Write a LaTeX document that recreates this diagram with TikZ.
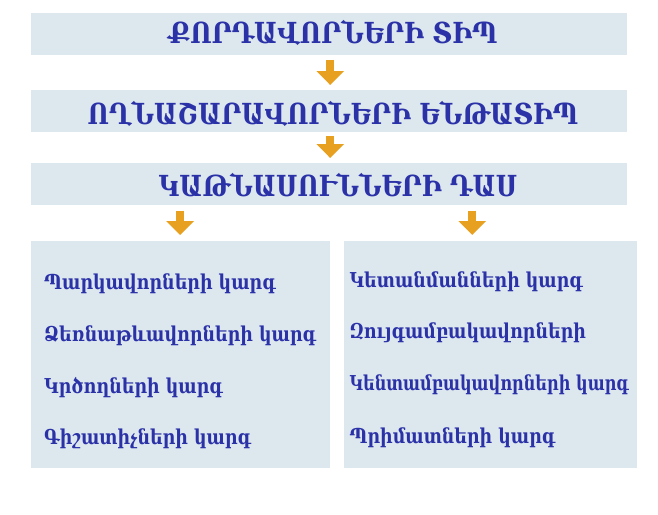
\documentclass[tikz,border=0pt]{standalone}
\usepackage{fontspec}
\setmainfont[FakeStretch=0.85]{DejaVu Serif}
\usetikzlibrary{arrows.meta}
\definecolor{boxfill}{RGB}{220,231,238}
\definecolor{arrowc}{RGB}{232,160,32}
\definecolor{txtc}{RGB}{43,50,168}
\tikzset{
  panel/.style={fill=boxfill, draw=none, inner sep=0pt, anchor=north west},
  wide/.style={panel, minimum width=596.2pt, minimum height=42.3pt},
  heading/.style={text=txtc, font=\fontsize{29}{31}\selectfont\bfseries, inner sep=0pt, anchor=base},
  item/.style={text=txtc, font=\fontsize{20.5}{23}\selectfont\bfseries, inner sep=0pt, anchor=base west},
  blockarrow/.style={draw=arrowc, line width=8pt, -{Triangle[width=27pt,length=14pt,fill=arrowc]}}
}
\begin{document}
\begin{tikzpicture}[x=1pt,y=-1pt]
\useasboundingbox (0,0) rectangle (658,514);
\node[wide] (b1) at (30.5,12.7) {};
\node[wide] (b2) at (30.5,89.3) {};
\node[wide] (b3) at (30.5,162.3) {};
\node[panel, minimum width=299.5pt, minimum height=226.8pt] (L) at (30.5,240.5) {};
\node[panel, minimum width=292.7pt, minimum height=226.8pt] (R) at (344,240.5) {};

\node[heading] (t1) at (333,43.3) {ՔՈՐԴԱՎՈՐՆԵՐԻ ՏԻՊ};
\node[heading] (t2) at (333,124.3) {ՈՂՆԱՇԱՐԱՎՈՐՆԵՐԻ ԵՆԹԱՏԻՊ};
\node[heading] (t3) at (338,196.7) {ԿԱԹՆԱՍՈՒՆՆԵՐԻ ԴԱՍ};

\draw[blockarrow] ([xshift=1.4pt,yshift=-4.3pt]b1.south) -- ([xshift=1.4pt,yshift=4.3pt]b2.north);
\draw[blockarrow] ([xshift=1.4pt,yshift=-4.3pt]b2.south) -- ([xshift=1.4pt,yshift=4.3pt]b3.north);
\draw[blockarrow] ([xshift=-0.3pt,yshift=-5.7pt]b3.south -| L.north) -- ([xshift=-0.3pt,yshift=5.5pt]L.north);
\draw[blockarrow] ([xshift=-18.3pt,yshift=-5.7pt]b3.south -| R.north) -- ([xshift=-18.3pt,yshift=5.5pt]R.north);

\node[item] (l1) at (44,289.3) {Պարկավորների կարգ};
\node[item] (l2) at (44,341.7) {Ձեռնաթևավորների կարգ};
\node[item] (l3) at (44,393.3) {Կրծողների կարգ};
\node[item] (l4) at (44,444) {Գիշատիչների կարգ};

\node[item] (r1) at (349.3,287.3) {Կետանմանների կարգ};
\node[item] (r2) at (349.3,338.3) {Զույգամբակավորների};
\node[item] (r3) at (349.3,390) {\scalebox{0.925}[1]{Կենտամբակավորների կարգ}};
\node[item] (r4) at (349.3,443.3) {Պրիմատների կարգ};
\end{tikzpicture}
\end{document}
